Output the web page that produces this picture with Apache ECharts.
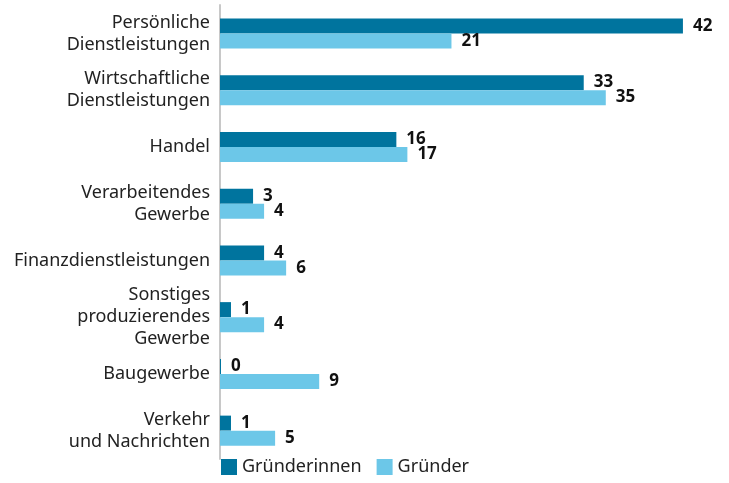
<!DOCTYPE html>
<html>
<head>
<meta charset="utf-8">
<script src="https://cdn.jsdelivr.net/npm/echarts@6/dist/echarts.min.js"></script>
<style>
  html, body { margin: 0; padding: 0; background: #fff; }
  #chart { width: 729px; height: 483px; }
</style>
</head>
<body>
<div id="chart"></div>
<script>
// Branchen (von oben nach unten)
var categories = [
  'Persönliche\nDienstleistungen',
  'Wirtschaftliche\nDienstleistungen',
  'Handel',
  'Verarbeitendes\nGewerbe',
  'Finanzdienstleistungen',
  'Sonstiges\nproduzierendes\nGewerbe',
  'Baugewerbe',
  'Verkehr\nund Nachrichten'
];
var seriesNames = ['Gründerinnen', 'Gründer'];
var gruenderinnen = [42, 33, 16, 3, 4, 1, 0, 1];
var gruender = [21, 35, 17, 4, 6, 4, 9, 5];

var font = 'Noto Sans';
var chart = echarts.init(document.getElementById('chart'));

function barSeries(name, data, color) {
  return {
    name: name,
    type: 'bar',
    data: data,
    barWidth: 15,
    barGap: '0%',
    barMinHeight: 1,
    itemStyle: { color: color },
    label: {
      show: true,
      position: 'right',
      distance: 10,
      color: '#111',
      fontFamily: font,
      fontWeight: 'bold',
      fontSize: 17
    }
  };
}

chart.setOption({
  animation: false,
  grid: { left: 220, right: 13, top: 5, bottom: 24, containLabel: false },
  legend: {
    left: 216,
    bottom: 2,
    itemWidth: 16,
    itemHeight: 16,
    itemGap: 15,
    icon: 'rect',
    textStyle: { fontFamily: font, fontSize: 18, color: '#222' },
    data: seriesNames
  },
  xAxis: {
    type: 'value',
    min: 0,
    max: 45,
    show: false
  },
  yAxis: {
    type: 'category',
    inverse: true,
    data: categories,
    axisLine: { show: true, lineStyle: { color: '#c8c8c8', width: 2 } },
    axisTick: { show: false },
    axisLabel: {
      margin: 10,
      fontFamily: font,
      fontSize: 18,
      lineHeight: 22,
      color: '#222',
      align: 'right'
    }
  },
  series: [
    barSeries(seriesNames[0], gruenderinnen, '#00749e'),
    barSeries(seriesNames[1], gruender, '#6cc7e8')
  ]
});
</script>
</body>
</html>
